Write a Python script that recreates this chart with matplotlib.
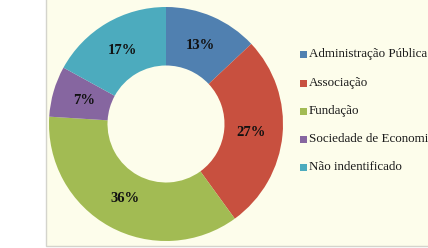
import numpy as np
import matplotlib.pyplot as plt
from matplotlib.patches import Rectangle

categories = ["Administração Pública", "Associação", "Fundação",
              "Sociedade de Economia Mista", "Não indentificado"]
values = [13, 27, 36, 7, 17]
labels = ["13%", "27%", "36%", "7%", "17%"]
colors = ["#5080B0", "#C8503F", "#A2BB53", "#8666A0", "#4CABBE"]

W, H = 428, 248
fig = plt.figure(figsize=(W / 100, H / 100), dpi=100)
fig.patch.set_facecolor("white")

# chart area background with thin gray border (left and bottom visible)
fig.patches.append(Rectangle((46 / W, 2 / H), 1.2, 1.2, transform=fig.transFigure,
                             facecolor="#FDFDEB", edgecolor="#D4D4CC", lw=1.0,
                             zorder=-5))

# donut: center (166,124), outer radius 117 px
cx, cy, r = 166, 124, 117
ax = fig.add_axes([(cx - r) / W, (H - cy - r) / H, 2 * r / W, 2 * r / H])
ax.set_facecolor("none")
ax.set_zorder(2)
wedges, _ = ax.pie(values, colors=colors, startangle=90, counterclock=False,
                   radius=1.0, wedgeprops=dict(width=0.5, linewidth=0))
ax.set_xlim(-1, 1)
ax.set_ylim(-1, 1)
ax.set_aspect("equal")
ax.axis("off")

start = 90.0
total = sum(values)
for v, lab in zip(values, labels):
    mid = np.deg2rad(start - v / total * 180)
    start -= v / total * 360
    ax.text(0.73 * np.cos(mid), 0.73 * np.sin(mid), lab, ha="center", va="center",
            fontsize=10.5, fontweight="bold", family="Liberation Serif", color="#111111")

# legend drawn by hand; the long label runs off the right edge as in the original
ys = [54, 83, 111, 139, 167]
for cat, col, y in zip(categories, colors, ys):
    fig.patches.append(Rectangle((300 / W, 1 - (y + 3.5) / H), 7 / W, 7 / H,
                                 transform=fig.transFigure, facecolor=col, lw=0,
                                 zorder=3))
    fig.text(309 / W, 1 - y / H, cat, ha="left", va="center", fontsize=9.4,
             family="Liberation Serif", color="#1a1a1a")

fig.savefig("out.png", dpi=100, facecolor=fig.get_facecolor())
